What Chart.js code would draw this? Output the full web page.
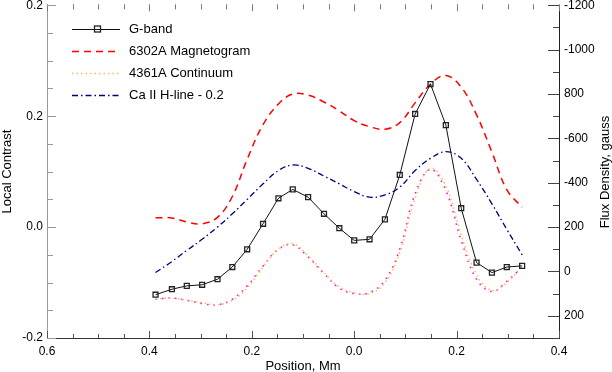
<!DOCTYPE html>
<html>
<head>
<meta charset="utf-8">
<script src="https://cdn.jsdelivr.net/npm/chart.js@4.4.0/dist/chart.umd.min.js"></script>
<style>
  html, body { margin: 0; padding: 0; background: #fff; }
</style>
</head>
<body>
<canvas id="fluxChart" width="612" height="372"></canvas>
<script>
// positions along the slit, Mm
const positions = [-0.388, -0.356, -0.327, -0.297, -0.267, -0.238, -0.209, -0.178, -0.148, -0.120,
  -0.090, -0.059, -0.029, 0.000, 0.030, 0.060, 0.089, 0.119, 0.149, 0.179, 0.209, 0.239, 0.269, 0.298, 0.328];

const gband = [-0.061, -0.056, -0.053, -0.052, -0.047, -0.036, -0.020, 0.003, 0.026, 0.034,
  0.027, 0.012, -0.001, -0.012, -0.011, 0.007, 0.047, 0.102, 0.129, 0.092, 0.017, -0.032, -0.041, -0.036, -0.035];

const magnetogram = [-242, -241, -223, -215, -244, -338, -506, -662, -755, -800,
  -795, -764, -724, -680, -653, -641, -671, -760, -844, -884, -831, -706, -538, -369, -289];

const continuum = [-0.065, -0.064, -0.066, -0.068, -0.070, -0.066, -0.055, -0.036, -0.020, -0.015,
  -0.026, -0.041, -0.054, -0.059, -0.060, -0.050, -0.023, 0.026, 0.053, 0.037, -0.007, -0.043, -0.057, -0.050, -0.035];

const continuumAlt = [-0.065, -0.064, -0.066, -0.069, -0.070, -0.065, -0.053, -0.035, -0.020, -0.016,
  -0.027, -0.042, -0.055, -0.060, -0.059, -0.048, -0.020, 0.030, 0.052, 0.033, -0.012, -0.047, -0.058, -0.049, -0.036];

const caLine = [-0.041, -0.031, -0.021, -0.011, 0.000, 0.012, 0.025, 0.039, 0.051, 0.056,
  0.053, 0.046, 0.039, 0.032, 0.027, 0.029, 0.036, 0.051, 0.062, 0.068, 0.062, 0.043, 0.021, -0.002, -0.025];

const xTicks = [-0.6, -0.4, -0.2, 0, 0.2, 0.4];
const xTickLabels = ['0.6', '0.4', '0.2', '0.0', '0.2', '0.4'];
const leftTicks = [-0.1, 0, 0.1, 0.2];
const leftTickLabels = ['-0.2', '0.0', '0.2', '0.2'];
const rightTicks = [-1200, -1000, -800, -600, -400, -200, 0, 200];
const rightTickLabels = ['-1200', '-1000', '800', '-600', '-400', '200', '0', '200'];
const legendLabels = ['G-band', '6302A Magnetogram', '4361A Continuum', 'Ca II H-line - 0.2'];

const FONT = "'Liberation Sans', Arial, sans-serif";

function pts(ys) {
  return positions.map((x, i) => ({ x: x, y: ys[i] }));
}

// no auto padding for half labels at the ends, the plot fills the box
function fixVertical(width) {
  return s => { s.width = width; s.paddingTop = 0; s.paddingBottom = 0; };
}

// little inward tick marks like the original plot
const innerTicks = {
  id: 'innerTicks',
  afterDraw(chart) {
    const ctx = chart.ctx;
    const a = chart.chartArea;
    const sx = chart.scales.x, sy = chart.scales.y, sr = chart.scales.y2;
    ctx.save();
    ctx.lineWidth = 1;
    const line = (c, x1, y1, x2, y2) => {
      ctx.strokeStyle = c;
      ctx.beginPath(); ctx.moveTo(x1, y1); ctx.lineTo(x2, y2); ctx.stroke();
    };
    for (let i = 0; i <= 20; i++) {
      const v = -0.6 + i * 0.05;
      const x = Math.round(sx.getPixelForValue(v)) + 0.5;
      const major = i % 4 === 0;
      line('#555', x, a.bottom, x, a.bottom - (major ? 7 : 4));
      line('#777', x, a.top - 1, x, a.top + (major ? 6 : 4));
    }
    for (let i = 0; i <= 12; i++) {
      const v = -0.1 + i * 0.025;
      const y = Math.round(sy.getPixelForValue(v)) + 0.5;
      line('#999', a.left, y, a.left + (i % 4 === 0 ? 9 : 6), y);
    }
    for (let i = 0; i <= 15; i++) {
      const v = -1200 + i * 100;
      const y = Math.round(sr.getPixelForValue(v)) + 0.5;
      line('#444', a.right, y, a.right - (i % 2 === 0 ? 11 : 6), y);
    }
    ctx.restore();
  }
};

// legend box in the upper left + right axis title
const sideText = {
  id: 'sideText',
  afterDraw(chart) {
    const ctx = chart.ctx;
    ctx.save();
    const rows = [29, 51, 73, 95];
    chart.data.datasets.slice(0, 4).forEach((ds, i) => {
      const y = rows[i] + 0.5;
      ctx.strokeStyle = ds.borderColor;
      ctx.lineWidth = ds.borderWidth;
      ctx.setLineDash(ds.borderDash || []);
      ctx.beginPath(); ctx.moveTo(72, y); ctx.lineTo(120, y); ctx.stroke();
      ctx.setLineDash([]);
      if (i === 0) {
        ctx.strokeStyle = '#222';
        ctx.lineWidth = 1.3;
        ctx.strokeRect(94.5, y - 3.5, 6, 6);
      }
      ctx.fillStyle = '#000';
      ctx.font = '13px ' + FONT;
      ctx.textAlign = 'left';
      ctx.textBaseline = 'middle';
      ctx.fillText(legendLabels[i], 129, rows[i]);
    });
    ctx.translate(605, 172);
    ctx.rotate(-Math.PI / 2);
    ctx.textAlign = 'center';
    ctx.textBaseline = 'middle';
    ctx.font = '13px ' + FONT;
    ctx.fillText('Flux Density, gauss', 0, 0);
    ctx.restore();
  }
};

const config = {
  type: 'line',
  data: {
    datasets: [
      {
        label: legendLabels[0],
        data: pts(gband),
        yAxisID: 'y',
        borderColor: '#111',
        borderWidth: 1,
        tension: 0,
        pointStyle: 'rect',
        pointRadius: 3.5,
        pointBorderColor: '#222',
        pointBackgroundColor: 'rgba(0,0,0,0)',
        pointBorderWidth: 1.3
      },
      {
        label: legendLabels[1],
        data: pts(magnetogram),
        yAxisID: 'y2',
        borderColor: '#ff0000',
        borderWidth: 1.5,
        borderDash: [7, 5],
        tension: 0.4,
        pointRadius: 0
      },
      {
        label: legendLabels[2],
        data: pts(continuum),
        yAxisID: 'y',
        borderColor: '#ffbb55',
        borderWidth: 1.5,
        borderDash: [1.5, 3],
        tension: 0.4,
        pointRadius: 0
      },
      {
        label: legendLabels[3],
        data: pts(caLine),
        yAxisID: 'y',
        borderColor: '#000080',
        borderWidth: 1.3,
        borderDash: [6, 3, 1.5, 3],
        tension: 0.4,
        pointRadius: 0
      },
      {
        label: 'extra',
        data: pts(continuumAlt),
        yAxisID: 'y',
        borderColor: '#ff00ff',
        borderWidth: 1.5,
        borderDash: [1.5, 5],
        tension: 0.4,
        pointRadius: 0
      }
    ]
  },
  options: {
    responsive: false,
    animation: false,
    layout: { padding: { top: 1, left: 0, right: 0, bottom: 0 } },
    plugins: {
      legend: { display: false },
      tooltip: { enabled: false }
    },
    scales: {
      x: {
        type: 'linear',
        min: -0.6,
        max: 0.4,
        afterBuildTicks: s => { s.ticks = xTicks.map(v => ({ value: v })); },
        afterFit: s => { s.height = 34; s.paddingLeft = 0; s.paddingRight = 0; },
        grid: { display: false, drawTicks: false },
        border: { display: true, color: '#333', width: 1 },
        ticks: {
          padding: 6,
          maxRotation: 0,
          color: '#000',
          font: { family: FONT, size: 12 },
          callback: (v, i) => xTickLabels[i]
        },
        title: {
          display: true,
          text: 'Position, Mm',
          color: '#000',
          font: { family: FONT, size: 13 },
          padding: { top: 0, bottom: -2 }
        }
      },
      y: {
        position: 'left',
        min: -0.1,
        max: 0.2,
        afterBuildTicks: s => { s.ticks = leftTicks.map(v => ({ value: v })); },
        afterFit: fixVertical(47),
        grid: { display: false, drawTicks: false },
        border: { display: true, color: '#999', width: 1 },
        ticks: {
          padding: 4,
          color: '#000',
          font: { family: FONT, size: 12 },
          callback: (v, i) => leftTickLabels[i]
        },
        title: {
          display: true,
          text: 'Local Contrast',
          color: '#000',
          font: { family: FONT, size: 13 },
          padding: { top: 0, bottom: 0 }
        }
      },
      y2: {
        position: 'right',
        min: -1200,
        max: 300,
        reverse: true,
        afterBuildTicks: s => { s.ticks = rightTicks.map(v => ({ value: v })); },
        afterFit: fixVertical(53),
        grid: { display: false, drawTicks: false },
        border: { display: true, color: '#222', width: 1 },
        ticks: {
          padding: 5,
          color: '#000',
          font: { family: FONT, size: 12 },
          callback: (v, i) => rightTickLabels[i]
        }
      }
    }
  },
  plugins: [innerTicks, sideText]
};

const fluxChart = new Chart(document.getElementById('fluxChart'), config);
</script>
</body>
</html>
